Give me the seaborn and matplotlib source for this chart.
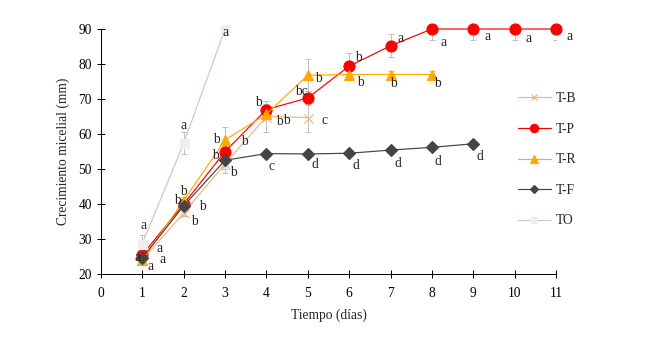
import numpy as np
import pandas as pd
import seaborn as sns
import matplotlib.pyplot as plt

# data
days = [1, 2, 3, 4, 5, 6, 7, 8, 9, 10, 11]

tb = [24.0, 37.5, 51.5, 65.0, 64.7]
tp = [25.5, 40.0, 55.0, 67.0, 70.3, 79.4, 85.2, 90.0, 90.0, 90.0, 90.0]
tr = [24.0, 41.0, 58.3, 65.7, 76.8, 77.0, 77.0, 77.0]
tf = [24.6, 39.5, 52.5, 54.4, 54.3, 54.5, 55.4, 56.2, 57.2]
to = [28.7, 57.4, 90.0]

tb_err = [1.0, 1.0, 2.5, 4.5, 4.0]
tp_err = [1.5, 1.0, 1.5, 1.5, 2.0, 3.7, 3.3, 3.1, 3.0, 3.0, 3.0]
tr_err = [1.0, 1.0, 3.7, 1.5, 4.5, 1.5, 1.0, 1.0]
tf_err = [1.0, 1.0, 2.5, 0.5, 0.5, 0.5, 0.5, 0.5, 0.5]
to_err = [2.5, 3.1, 1.0]

tb_lbl = ["a", "b", "b", "b", "c"]
tp_lbl = ["a", "b", "b", "b", "bc", "b", "a", "a", "a", "a", "a"]
tr_lbl = ["a", "b", "b", "b", "b", "b", "b", "b"]
tf_lbl = ["a", "b", "b", "c", "d", "d", "d", "d", "d"]
to_lbl = ["a", "a", "a"]

# label offsets in points (dx, dy)
tb_off = [(8, -6), (11, -9), (19, 22), (20, -4), (17, -3)]
tp_off = [(-5, -3), (-6, 4), (-10, -4), (-8, 7), (-6, 6), (9, 9), (10, 7),
          (12, -13), (14, -8), (14, -10), (14, -8)]
tr_off = [(17, 12), (0, 9), (-9, 0), (13, -7), (11, -3), (11, -8), (3, -9), (5, -9)]
tf_off = [(20, -2), (19, -1), (8, -12), (5, -13), (7, -11), (7, -12), (7, -13),
          (6, -14), (7, -13)]
to_off = [(1, 18), (0, 18), (0, -3)]

series = [
    ("T-B", tb, tb_err, tb_lbl, tb_off, "#f4b183", "x", 9),
    ("T-P", tp, tp_err, tp_lbl, tp_off, "#ff0000", "o", 11),
    ("T-R", tr, tr_err, tr_lbl, tr_off, "#ffaa00", "^", 10),
    ("T-F", tf, tf_err, tf_lbl, tf_off, "#454545", "D", 8),
    ("TO", to, to_err, to_lbl, to_off, "#d4c4c4", "s", 9),
]

sns.set_style("ticks")
plt.rcParams["font.family"] = ["Liberation Serif", "DejaVu Serif"]
fs = 13.5

fig = plt.figure(figsize=(655 / 72, 340 / 72), dpi=72)
ax = fig.add_axes([101 / 655, 1 - 274 / 340, 455 / 655, 245 / 340])

for name, vals, err, lbls, offs, col, mk, ms in series:
    x = days[:len(vals)]
    ax.errorbar(x, vals, yerr=err, fmt="none", ecolor="#c0c0c0",
                elinewidth=1, capsize=3, zorder=1)
    mfc = "#eeeeee" if name == "TO" else col
    sns.lineplot(x=x, y=vals, ax=ax, color=col, marker=mk, markersize=ms,
                 mfc=mfc, mec=mfc if mk != "x" else col, mew=1.2,
                 linewidth=1.2, label=name, clip_on=False, zorder=3)
    for xi, yi, t, (dx, dy) in zip(x, vals, lbls, offs):
        ax.annotate(t, (xi, yi), xytext=(dx, dy), textcoords="offset points",
                    ha="center", va="center", fontsize=fs, zorder=4,
                    annotation_clip=False)

ax.set_xlim(0, 11)
ax.set_ylim(20, 90)
ax.set_xticks(range(0, 12))
ax.set_yticks(range(20, 91, 10))
ax.tick_params(direction="inout", length=8, width=1, labelsize=fs,
               colors="black", pad=5)
ax.tick_params(axis="x", pad=9)
for s in ["top", "right"]:
    ax.spines[s].set_visible(False)
for s in ["left", "bottom"]:
    ax.spines[s].set_color("black")
    ax.spines[s].set_linewidth(1)

ax.set_xlabel("Tiempo (días)", fontsize=fs, labelpad=9)
ax.set_ylabel("Crecimiento micelial (mm)", fontsize=fs, labelpad=8)

ax.legend(loc="upper left", bbox_to_anchor=(506 / 655, 1 - 80 / 340),
          bbox_transform=fig.transFigure, frameon=False, fontsize=fs,
          handlelength=2.4, labelspacing=1.3, markerscale=0.75,
          handletextpad=0.35)

fig.savefig("out.png", dpi=72)
